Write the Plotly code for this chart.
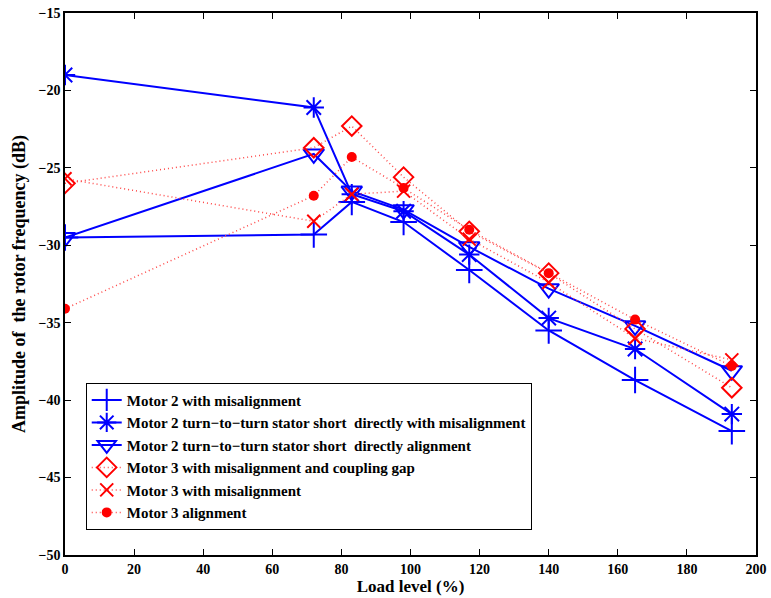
import plotly.graph_objects as go

# Load levels (%) at which the rotor frequency amplitude was measured
load_level = [0, 72, 83, 98, 117, 140, 165, 193]

# Amplitude of the rotor frequency component (dB)
m2_misalign = [-29.5, -29.3, -27.2, -28.5, -31.6, -35.5, -38.7, -42.0]
m2_short_misalign = [-19.0, -21.1, -26.7, -27.8, -30.6, -34.7, -36.7, -40.9]
m2_short_align = [-29.5, -24.1, -26.5, -27.7, -30.1, -32.8, -35.2, -38.1]
m3_misalign_gap = [-26.0, -23.7, -22.3, -25.6, -29.1, -31.8, -35.4, -39.2]
m3_misalign = [-25.7, -28.45, -26.7, -26.5, -29.6, -32.4, -36.0, -37.4]
m3_align = [-34.1, -26.8, -24.3, -26.3, -29.0, -31.8, -34.8, -37.8]

BLUE = "rgb(0,0,255)"
RED = "rgb(255,0,0)"
RED_DOT = "rgb(255,70,70)"
FONT = "Liberation Serif"
DOTS = "1px,3px"

series = [
    ("Motor 2 with misalignment", m2_misalign, BLUE, "solid", 2,
     dict(symbol="cross-thin", size=19, line=dict(width=2, color=BLUE))),
    ("Motor 2 turn\u2212to\u2212turn stator short  directly with misalignment",
     m2_short_misalign, BLUE, "solid", 2,
     dict(symbol="asterisk", size=17, line=dict(width=2, color=BLUE))),
    ("Motor 2 turn\u2212to\u2212turn stator short  directly alignment",
     m2_short_align, BLUE, "solid", 2,
     dict(symbol="triangle-down-open", size=18, color=BLUE,
          line=dict(width=2, color=BLUE))),
    ("Motor 3 with misalignment and coupling gap", m3_misalign_gap, RED_DOT, DOTS, 1.5,
     dict(symbol="diamond-open", size=15, color=RED,
          line=dict(width=2, color=RED))),
    ("Motor 3 with misalignment", m3_misalign, RED_DOT, DOTS, 1.5,
     dict(symbol="x-thin", size=13, line=dict(width=2, color=RED))),
    ("Motor 3 alignment", m3_align, RED_DOT, DOTS, 1.5,
     dict(symbol="circle", size=10, color=RED, line=dict(width=0))),
]

fig = go.Figure()
for name, values, lcolor, dash, lwidth, marker in series:
    fig.add_trace(go.Scatter(
        x=load_level, y=values, name=name, mode="lines+markers",
        line=dict(color=lcolor, dash=dash, width=lwidth),
        marker=marker,
    ))

axis_common = dict(
    showgrid=False, zeroline=False, showline=True, mirror="ticks",
    linecolor="black", linewidth=1.5, ticks="inside", ticklen=6,
    tickcolor="black", tickwidth=1, automargin=False,
    tickfont=dict(family=FONT, size=14, color="black", weight="bold"),
)

fig.update_xaxes(
    range=[0, 200], tickmode="linear", tick0=0, dtick=20,
    title=dict(text="<b>Load level (%)</b>", standoff=1,
               font=dict(family=FONT, size=17, color="black")),
    **axis_common,
)
fig.update_yaxes(
    range=[-50, -15], tickmode="linear", tick0=-50, dtick=5,
    title=dict(text="<b>Amplitude of  the rotor frequency (dB)</b>", standoff=8,
               font=dict(family=FONT, size=18, color="black")),
    **axis_common,
)

fig.update_layout(
    width=771, height=598,
    margin=dict(l=65, r=15, t=13, b=43),
    plot_bgcolor="white", paper_bgcolor="white",
    legend=dict(
        x=0.03, y=0.318, xanchor="left", yanchor="top",
        bgcolor="white", bordercolor="black", borderwidth=1,
        font=dict(family=FONT, size=15, color="black", weight="bold"),
        itemwidth=30, tracegroupgap=0,
    ),
)

fig.write_html("out.html")
